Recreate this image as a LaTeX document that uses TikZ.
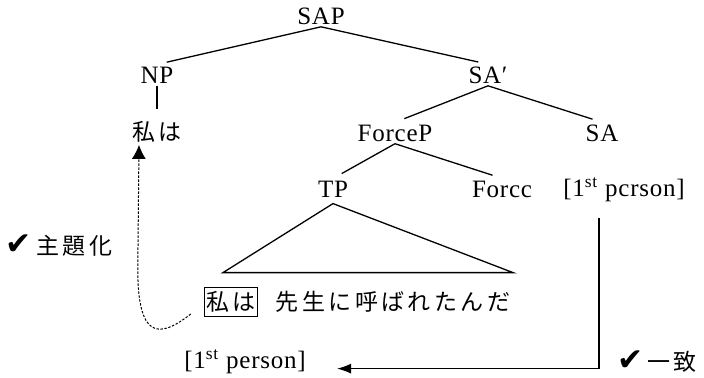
\documentclass[tikz,border=0pt]{standalone}
\usepackage{fontspec}
\setmainfont{Liberation Serif}[LetterSpace=3]
\newfontfamily\jpfont{Noto Sans CJK JP}[Scale=0.92, LetterSpace=15]
\newfontfamily\symfont{DejaVu Sans}[Scale=1.25]
\usetikzlibrary{positioning, arrows.meta}
\tikzset{
    x=0.5pt, y=-0.5pt, % one unit is one pixel of the reference, y runs down
    on grid, % relative placement is measured centre to centre
    every node/.style={font=\fontsize{12.5}{15}\selectfont, inner sep=1pt},
    branch/.style={line width=0.65pt, shorten >=5pt}, % tree edges
    topic/.style={line width=0.5pt, dash pattern=on 1.2pt off 0.8pt, -{Latex[length=7pt,width=7pt]}}, % movement arrow
    agree/.style={line width=0.65pt, -{Latex[length=7pt,width=5pt]}, shorten >=14.5pt}, % agreement arrow
    boxed/.style={draw, line width=0.5pt, inner xsep=1pt, inner ysep=2pt},
    }

\begin{document}
\begin{tikzpicture}
\useasboundingbox (0,0) rectangle (704,377);
\node (1) at (321,16) {SAP};
\node[below left=29.5pt and 82pt of 1] (2) {NP};
\node[below right=29.5pt and 83.5pt of 1] (3) {SA′};
\node[below=28.5pt of 2] (4) {\jpfont 私は};
\node[below left=29pt and 46.5pt of 3] (5) {ForceP};
\node[below right=29pt and 57pt of 3] (6) {SA};
\node[below left=28pt and 31pt of 5] (7) {TP};
\node[below right=28pt and 53.5pt of 5] (8) {Forcc};
\node[below right=28.5pt and 11pt of 6] (9) {[1\textsuperscript{st} pcrson]};
\node[boxed, below left=56.5pt and 51pt of 7] (10) {\jpfont 私は};
\node[right=81pt of 10] (11) {\jpfont 先生に呼ばれたんだ};
\node (12) at (245,362) {[1\textsuperscript{st} person]};
\node (13) at (59,246) {{\symfont ✔}\,\jpfont 主題化};
\node (14) at (657,362) {{\symfont ✔}\,\jpfont 一致};

\draw[branch] (1.south) edge (2.north)
(1.south) edge (3.north)
(2.south) edge (4.north)
(3.south) edge (5.north)
(3.south) edge (6.north)
(5.south) edge (7.north)
(5.south) edge (8.north);
\draw[branch, shorten >=0pt] ([yshift=-2pt]7.south) -- ++(-110,69) -- ++(290,0) -- cycle;
\draw[topic] ([shift={(-13,-3)}]10.south west) .. controls +(-32,25) and +(0,70) .. ++(-53,-45) -- ([xshift=-9pt]4.south);
\draw[agree] ([shift={(-25,14)}]9.south) |- (12.base east);
\end{tikzpicture}
\end{document}
